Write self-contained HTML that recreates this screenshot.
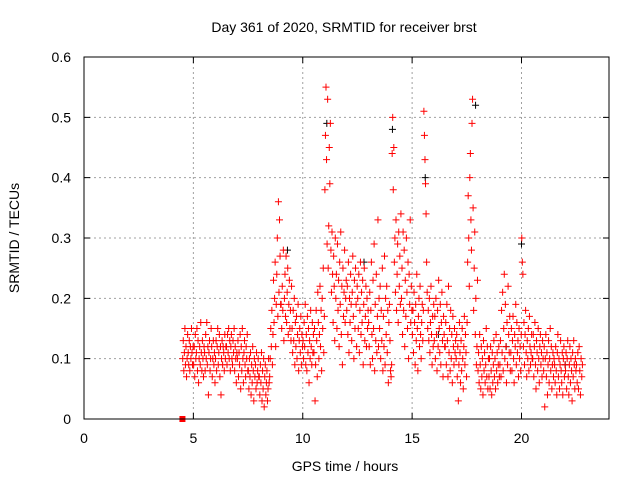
<!DOCTYPE html>
<html><head><meta charset="utf-8"><style>
html,body{margin:0;padding:0;background:#fff;}
svg{display:block;font-family:"Liberation Sans",sans-serif;}
</style></head><body>
<svg id="chart" width="640" height="480">
<rect x="0" y="0" width="640" height="480" fill="#fff"/>
<text x="344" y="32" font-size="14" text-anchor="middle">Day 361 of 2020, SRMTID for receiver brst</text>
<text x="345" y="471" font-size="14" text-anchor="middle">GPS time / hours</text>
<text transform="translate(19,238) rotate(-90)" font-size="14" text-anchor="middle">SRMTID / TECUs</text>
<g id="grid"></g>
<g id="ticks"></g>
<g id="marks"></g>
<rect x="84" y="57" width="525" height="362" fill="none" stroke="#000" stroke-width="1"/>
</svg>
<script>
// x ticks (hours) and y ticks (TECU)
const xTicks = [0, 5, 10, 15, 20];
const yTicks = [0, 0.1, 0.2, 0.3, 0.4, 0.5, 0.6];
const yTickLabels = ["0", "0.1", "0.2", "0.3", "0.4", "0.5", "0.6"];
// segment start hours; points spread evenly within each segment
const segStarts = [4.5,5.0,5.5,6.0,6.5,7.0,7.5,8.0,8.5,9.0,9.5,10.0,10.5,11.0,11.5,12.0,12.5,13.0,13.5,14.0,14.5,15.0,15.5,16.0,16.5,17.0,17.5,18.0,18.5,19.0,19.5,20.0,20.5,21.0,21.5,22.0,22.5];
const lastEnd = 22.8;
// SRMTID values in hundredths of TECU per segment
const segValues = [
[10,13,8,11,15,9,12,7,10,14,11,9,13,8,12,10,15,11,9,12],
[9,12,7,14,10,11,15,8,13,6,10,12,9,16,11,8,13,10,7,12],
[11,8,14,10,16,9,12,4,11,13,8,10,15,12,7,10,13,9,11,6],
[10,13,8,12,15,9,11,14,7,12,4,10,13,9,12,11,8,14,10,12],
[12,9,14,11,15,10,13,8,12,14,10,9,13,11,15,8,12,10,6,11],
[10,13,7,11,9,14,5,12,8,15,10,6,11,13,9,7,12,10,14,8],
[8,5,10,7,11,4,9,6,12,8,3,10,7,9,5,11,6,8,10,7],
[7,4,9,6,11,3,8,5,10,2,7,9,4,6,8,3,5,10,6,7],
[10,15,12,18,9,14,23,16,20,26,12,19,24,30,17,36,21,33,27,19],
[19,15,22,18,28,13,20,24,17,27,16,21,25,14,19,23,15,18,13,22],
[15,11,18,13,20,9,16,12,17,10,14,19,8,13,15,11,17,9,14,12],
[13,10,16,12,19,9,14,8,17,11,15,6,13,10,18,12,9,16,11,14],
[11,15,3,9,18,13,7,21,16,10,14,22,12,18,8,20,15,25,11,17],
[38,47,55,43,29,53,25,32,45,39,49,28,21,31,24,16,27,22,13,30],
[20,24,15,29,18,23,12,26,19,31,14,22,9,25,17,21,28,16,20,23],
[18,22,14,26,11,20,16,24,19,13,21,27,17,10,23,15,25,19,12,22],
[20,15,24,11,18,26,14,21,16,23,9,19,25,13,17,22,12,20,15,18],
[16,12,21,9,18,26,14,10,23,15,29,8,19,13,24,11,17,33,12,20],
[15,22,10,18,13,25,8,17,12,27,9,20,14,22,11,18,6,16,19,13],
[8,7,9,44,50,38,45,26,30,21,33,18,24,29,16,31,22,27,19,34],
[20,25,14,31,18,28,12,23,17,30,21,15,26,10,24,19,33,16,22,18],
[14,18,11,21,16,9,19,13,24,15,8,17,20,12,22,14,10,16,19,13],
[18,51,47,43,39,34,26,21,15,18,13,20,11,16,22,14,9,17,12,19],
[13,17,10,20,14,8,18,12,23,15,11,19,9,16,21,13,7,17,14,12],
[12,16,9,19,13,7,22,11,15,8,18,10,14,6,17,12,9,15,11,13],
[10,14,7,12,3,9,16,11,6,13,8,15,10,5,12,17,9,14,11,7],
[16,26,37,30,22,40,44,33,28,49,53,35,18,25,31,14,20,9,12,23],
[8,11,6,14,9,5,12,7,10,4,13,8,11,6,9,15,7,12,5,10],
[7,10,5,12,8,4,11,6,9,13,7,10,5,14,8,11,6,9,12,7],
[9,13,7,18,11,21,8,15,24,10,19,12,6,16,9,22,14,11,17,8],
[11,15,8,13,17,10,6,14,12,19,9,16,11,13,7,15,10,12,8,14],
[30,26,24,12,16,9,14,18,11,7,13,10,15,8,17,12,9,11,14,10],
[10,14,7,12,16,9,5,13,11,8,15,10,6,12,14,9,11,7,13,10],
[8,12,2,10,14,7,11,4,9,13,6,10,15,8,12,5,9,11,7,10],
[9,6,12,8,4,11,14,7,10,5,9,13,8,6,11,4,10,12,7,9],
[8,11,5,10,13,7,4,9,12,6,10,8,3,11,7,13,9,5,10,8],
[9,6,11,5,12,8,4,10,7,9]
];
const valueScale = 0.01;
// sparse black points (second series)
const blackTimes = [11.1, 14.1, 17.9, 20.0, 15.6, 9.3, 12.8, 16.2, 19.3, 22.0];
const blackValues = [0.49, 0.48, 0.52, 0.29, 0.40, 0.28, 0.26, 0.14, 0.12, 0.09];
const squareTime = 4.5, squareValue = 0;

const X0 = 84, X1 = 609, Y0 = 419, Y1 = 57, XMAX = 24, YMAX = 0.6;
const xs = t => X0 + (t / XMAX) * (X1 - X0);
const ys = v => Y0 - (v / YMAX) * (Y0 - Y1);
const NS = "http://www.w3.org/2000/svg";
const grid = document.getElementById("grid"), ticks = document.getElementById("ticks"), marks = document.getElementById("marks");
function mk(tag, attrs, parent) { const e = document.createElementNS(NS, tag); for (const k in attrs) e.setAttribute(k, attrs[k]); parent.appendChild(e); return e; }

xTicks.forEach((t, i) => {
  const x = xs(t);
  if (i > 0) {
    const g = mk("line", {x1: x, x2: x, y1: Y1, y2: Y0, stroke: "#a0a0a0", "stroke-dasharray": "2,3"}, grid);
    
    
  }
  const tk = mk("path", {d: `M${x},${Y0}v-6M${x},${Y1}v6`, stroke: "#000"}, ticks);
  
  
  const lb = mk("text", {x: x, y: 443, "font-size": 14, "text-anchor": "middle"}, ticks);
  lb.textContent = String(t);
  
  
});
yTicks.forEach((v, i) => {
  const y = ys(v);
  if (i > 0 && i < yTicks.length - 1) {
    const g = mk("line", {x1: X0, x2: X1, y1: y, y2: y, stroke: "#a0a0a0", "stroke-dasharray": "2,3"}, grid);
    
    
  }
  const tk = mk("path", {d: `M${X0},${y}h6M${X1},${y}h-6`, stroke: "#000"}, ticks);
  
  
  const lb = mk("text", {x: 71, y: y + 5, "font-size": 14, "text-anchor": "end"}, ticks);
  lb.textContent = yTickLabels[i];
  
  
});

function cross(t, v, color, name) {
  const x = xs(t), y = ys(v);
  const p = mk("path", {d: `M${x-3.5},${y}h7M${x},${y-3.5}v7`, stroke: color, "stroke-width": 1}, marks);
  
  
}
blackTimes.forEach((t, i) => cross(t, blackValues[i], "#000", "black-point"));
segValues.forEach((vals, s) => {
  const a = segStarts[s], b = s + 1 < segStarts.length ? segStarts[s + 1] : lastEnd;
  vals.forEach((v, i) => cross(a + (b - a) * (i + 0.5) / vals.length, v * valueScale, "#f00", "srmtid-point"));
});
const sq = mk("rect", {x: xs(squareTime) - 3, y: ys(squareValue) - 3, width: 6, height: 6, fill: "#f00"}, marks);


</script>
</body></html>
